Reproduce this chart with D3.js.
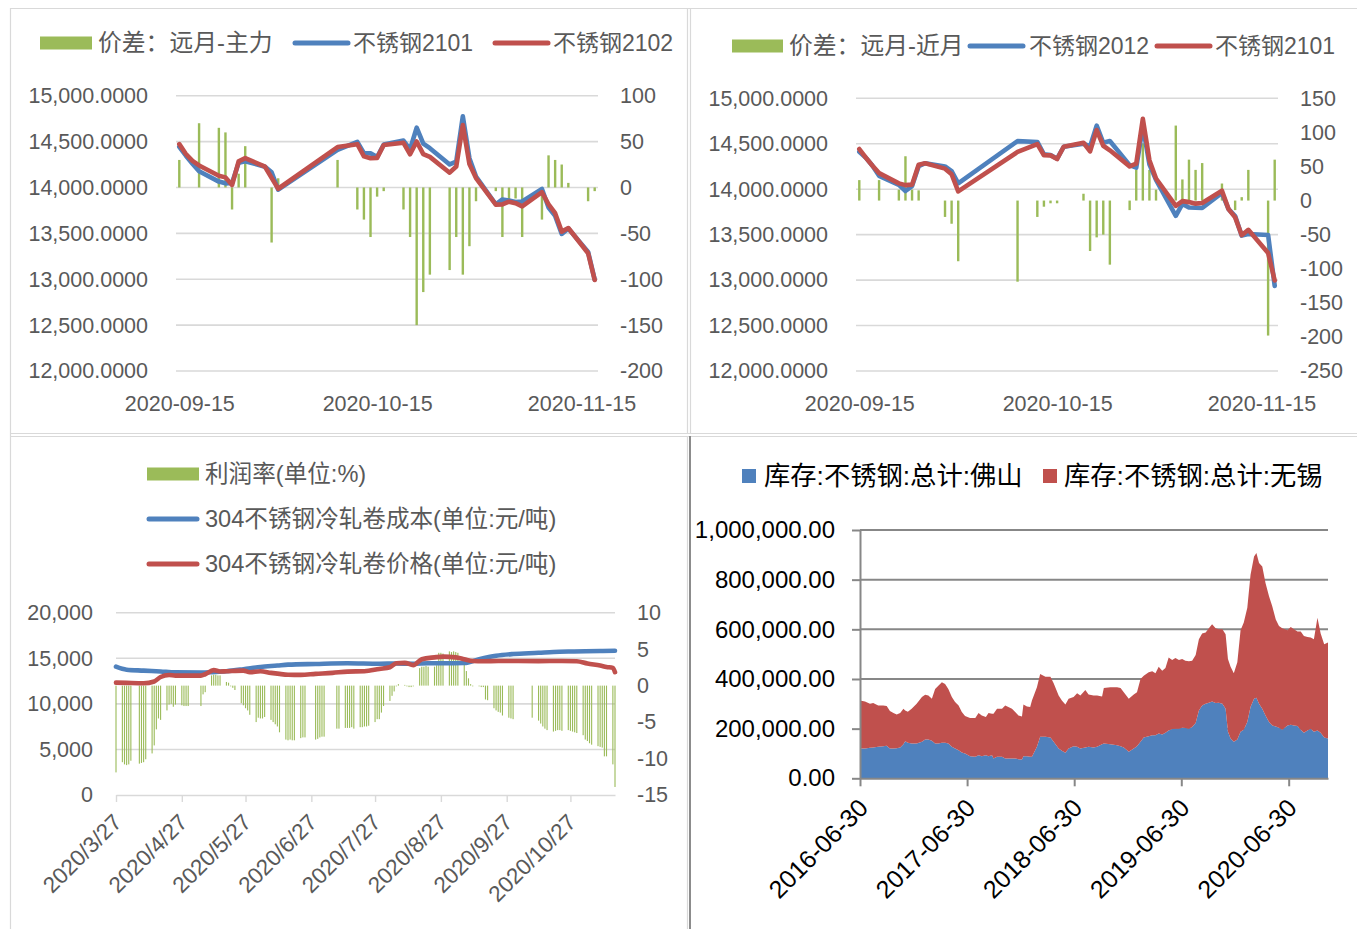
<!DOCTYPE html>
<html><head><meta charset="utf-8">
<script src="https://cdn.jsdelivr.net/npm/d3@7/dist/d3.min.js"></script>
<style>
html,body{margin:0;padding:0;background:#fff;overflow:hidden}
svg{display:block}
</style></head>
<body>
<svg id="chart" width="1357" height="929"></svg>
<script>
// ================= DATA =================
// --- top charts: trading days ---
const topDates = ["2020-09-15","2020-09-16","2020-09-17","2020-09-18","2020-09-21","2020-09-22","2020-09-23","2020-09-24","2020-09-25","2020-09-28","2020-09-29","2020-09-30",
"2020-10-09","2020-10-12","2020-10-13","2020-10-14","2020-10-15","2020-10-16","2020-10-19","2020-10-20","2020-10-21","2020-10-22","2020-10-23","2020-10-26","2020-10-27","2020-10-28","2020-10-29","2020-10-30",
"2020-11-02","2020-11-03","2020-11-04","2020-11-05","2020-11-06","2020-11-09","2020-11-10","2020-11-11","2020-11-12","2020-11-13","2020-11-16","2020-11-17"];
// 价差：远月-主力
const spreadFarMain = [30,0,0,70,65,60,-24,15,45,0,-60,10,
30,-24,-35,-54,-10,-4,-24,-54,-150,-114,-95,-90,-54,-95,-64,-15,
-4,-54,-13,-12,-54,-35,35,30,25,5,-15,-4];
// 不锈钢2101
const ss2101 = [14442,14346,14259,14177,14064,14045,14050,14268,14286,14226,14165,13976,
14410,14496,14374,14372,14332,14467,14511,14416,14651,14478,14428,14251,14282,14775,14319,14118,
13817,13869,13858,13841,13848,13983,13781,13690,13494,13553,13298,12996];
// 不锈钢2102
const ss2102 = [14472,14365,14290,14240,14127,14110,14026,14285,14320,14226,14105,13986,
14440,14472,14339,14318,14322,14463,14487,14362,14501,14364,14333,14161,14228,14680,14255,14103,
13813,13815,13845,13829,13794,13948,13816,13720,13519,13558,13283,12992];
// 价差：远月-近月
const spreadFarNear = [30,0,0,30,16,65,16,15,0,-24,-34,-89,
-119,-24,-9,-4,-4,0,10,-74,-54,-50,-94,-14,45,84,45,16,
110,31,60,45,55,25,0,-14,5,45,-198,60];
// 不锈钢2012
const ss2012 = [14411,14346,14259,14147,14048,13980,14034,14253,14286,14250,14199,14065,
14529,14520,14383,14376,14336,14467,14501,14470,14700,14510,14530,14265,14237,14691,14274,14102,
13707,13838,13798,13796,13793,13958,13781,13704,13489,13508,13496,12936];

const topLeftTicks = [12000,12500,13000,13500,14000,14500,15000];
const tlRightTicks = [-200,-150,-100,-50,0,50,100];
const trRightTicks = [-250,-200,-150,-100,-50,0,50,100,150];
const topDateTicks = ["2020-09-15","2020-10-15","2020-11-15"];

// --- bottom-left: profit ---
const profitDates = ["3/27","3/30","3/31","4/1","4/2","4/3","4/7","4/8","4/9","4/10","4/13","4/14","4/15","4/16","4/17","4/20","4/21","4/22","4/23","4/24","4/27","4/28","4/29","4/30",
"5/6","5/7","5/8","5/11","5/12","5/13","5/14","5/15","5/18","5/19","5/20","5/21","5/22","5/25","5/26","5/27","5/28","5/29",
"6/1","6/2","6/3","6/4","6/5","6/8","6/9","6/10","6/11","6/12","6/15","6/16","6/17","6/18","6/19","6/22","6/23","6/24","6/29","6/30",
"7/1","7/2","7/3","7/9","7/10","7/13","7/14","7/15","7/16","7/17","7/20","7/21","7/22","7/23","7/24","7/27","7/28","7/29","7/30","7/31",
"8/3","8/4","8/5","8/6","8/7","8/10","8/11","8/12","8/13","8/14","8/17","8/18","8/19","8/20","8/21","8/24","8/25","8/26","8/27","8/28","8/31",
"9/1","9/2","9/3","9/4","9/7","9/8","9/9","9/10","9/11","9/14","9/15","9/16","9/17","9/18","9/21","9/22","9/23","9/24","9/25","9/28","9/29","9/30",
"10/9","10/12","10/13","10/14","10/15","10/16","10/19","10/20","10/21","10/22","10/23","10/26","10/27","10/28","10/29","10/30",
"11/2","11/3","11/4","11/5","11/6","11/9","11/10","11/11","11/12","11/13","11/16","11/17"];
const profitRate = [-11.9,-10.5,-10.8,-10.9,-10.8,-10.3, -10.7,-10.6,-10.5,-10.1, -9.3,-8.2,-6.0,-4.5,-4.7, -3.4,-2.6,-2.5,-2.9,-2.6, -2.7,-2.8,-2.8,-2.8,
-2.8,-1.2,-0.9, 1.4,1.5,1.5,1.4,1.4, 0.5,0.4,-0.1,-0.3,-0.6, -2.4,-2.7,-3.1,-3.4,-4.0,
-5.0,-4.4,-4.5,-4.5,-4.3, -4.7,-5.0,-5.3,-5.6,-6.4, -7.4,-7.5,-7.4,-7.5,-7.5, -7.2,-7.1,-7.1, -7.4,-7.3,
-7.1,-7.0,-7.0, -5.9,-5.9, -5.8,-5.8,-5.8,-5.7,-5.9, -5.7,-5.7,-5.6,-5.6,-5.5, -5.0,-4.6,-4.6,-3.7,-2.8,
-2.1,-1.4,-0.8,-0.1,0.2, 0.1,-0.1,-0.2,-0.2,-0.1, 2.4,2.6,2.6,2.7,2.6, 2.6,2.8,4.5,4.5,4.4, 4.7,
4.6,4.7,4.6,4.5, 2.9,2.0,1.0,0.2,-0.1, -0.1,-0.2,-0.2,-1.9,-2.0, -3.1,-3.4,-3.6,-3.7,-4.1, -4.4,-4.5,-4.6,
-4.4, -4.8,-5.2,-5.6,-5.9,-6.1, -6.3,-6.2,-6.1,-6.1,-6.2, -6.1,-6.2,-6.3,-6.4,-6.5,
-6.8,-7.4,-7.6,-7.9,-8.1, -8.3,-8.4,-8.5,-9.7,-9.7, -10.8,-13.9];
const costDates = ["3/27","4/1","4/9","4/17","4/24","5/6","5/11","5/18","5/26","6/3","6/11","6/16","6/29","7/14","7/29","8/6","8/14","8/21","8/28","9/7","9/14","9/22","9/30","10/12","10/19","10/27","11/3","11/10","11/17"];
const costValues = [14080,13750,13650,13550,13450,13430,13470,13580,13800,14050,14200,14300,14380,14450,14400,14420,14400,14450,14450,14480,14900,15280,15470,15600,15690,15740,15766,15790,15830];
const priceDates = ["3/27","4/1","4/9","4/14","4/17","4/21","4/24","5/6","5/8","5/12","5/15","5/18","5/26","5/29","6/3","6/8","6/12","6/16","6/22","6/29","7/7","7/14","7/22","7/29","8/3","8/6","8/10","8/14","8/18","8/24","8/28","9/3","9/7","9/11","9/16","9/23","10/12","10/23","10/30","11/4","11/10","11/13","11/16","11/17"];
const priceValues = [12330,12300,12260,12450,12950,13170,13100,13100,13250,13700,13550,13580,13650,13470,13580,13400,13285,13200,13175,13285,13394,13540,13577,13832,14015,14450,14500,14250,14900,15100,15180,15100,14900,14700,14680,14700,14690,14700,14680,14420,14200,14050,13950,13480];
const blLeftTicks = [0,5000,10000,15000,20000];
const blRightTicks = [-15,-10,-5,0,5,10];
const blDateTicks = ["3/27","4/27","5/27","6/27","7/27","8/27","9/27","10/27"];

// --- bottom-right: inventory (thousand tonnes) ---
const invDates = ["2016-06-30","2016-07-17","2016-08-03","2016-08-14","2016-08-31","2016-09-17","2016-09-29","2016-10-10","2016-10-22","2016-11-02","2016-11-14","2016-11-25","2016-12-01","2016-12-10","2016-12-23",
"2017-01-09","2017-01-27","2017-02-07","2017-02-18","2017-03-02","2017-03-13","2017-03-24","2017-04-05","2017-04-16","2017-04-27","2017-05-09","2017-05-20","2017-06-01","2017-06-12","2017-06-23","2017-07-10","2017-07-28","2017-08-08","2017-08-19","2017-09-02","2017-09-11","2017-09-23","2017-09-28","2017-10-10","2017-10-27","2017-11-07","2017-11-30","2017-12-11","2017-12-22",
"2018-01-03","2018-01-08","2018-01-20","2018-01-31","2018-02-06","2018-02-23","2018-03-06","2018-03-24","2018-04-10","2018-04-21","2018-05-08","2018-05-19","2018-05-31","2018-06-11","2018-06-28","2018-07-10","2018-07-21","2018-08-07","2018-08-18","2018-09-04","2018-09-16","2018-10-03","2018-10-09","2018-10-31","2018-11-23","2018-12-05","2018-12-16",
"2019-01-02","2019-01-19","2019-01-30","2019-02-11","2019-02-22","2019-03-11","2019-03-23","2019-04-03","2019-04-14","2019-04-26","2019-05-07","2019-05-18","2019-05-30","2019-06-10","2019-06-22","2019-07-03","2019-07-14","2019-07-26","2019-08-06","2019-08-18","2019-08-29","2019-09-09","2019-09-21","2019-10-02","2019-10-13","2019-10-25","2019-11-05","2019-11-17","2019-11-28","2019-12-06","2019-12-15","2019-12-26",
"2020-01-07","2020-01-18","2020-01-29","2020-02-10","2020-02-21","2020-03-04","2020-03-12","2020-03-21","2020-04-01","2020-04-12","2020-04-24","2020-05-05","2020-05-17","2020-05-28","2020-06-08","2020-06-26","2020-07-07","2020-07-18","2020-07-30","2020-08-10","2020-08-21","2020-09-02","2020-09-13","2020-09-24","2020-10-06","2020-10-17","2020-10-29","2020-11-11"];
const invFoshanK = [120,120,123,124,127,129,131,120,120,121,124,137,149,143,140,
140,147,156,156,151,140,140,143,143,140,127,120,113,104,100,89,87,93,89,93,89,93,80,87,87,80,80,80,77,
76,89,89,87,87,127,167,167,164,147,120,111,103,120,129,127,120,124,127,124,127,137,140,137,133,129,124,
107,120,129,147,164,169,173,173,180,176,183,193,199,200,200,204,203,200,207,223,273,293,300,304,309,303,304,300,280,187,160,147,
156,187,196,227,287,320,324,300,280,253,227,213,209,204,196,213,216,213,211,196,183,193,200,187,193,183,164,160];
const invWuxiK = [193,189,177,179,166,164,160,151,143,136,139,143,124,125,140,
160,180,180,177,169,220,233,244,237,220,200,187,180,163,151,154,156,170,164,154,174,167,180,193,193,213,200,187,176,
173,208,200,200,226,240,253,242,245,236,213,202,194,200,198,216,213,232,210,209,206,192,224,230,234,235,223,
213,217,218,253,249,258,258,250,269,257,261,294,277,284,276,276,270,271,266,274,287,290,287,300,311,301,296,300,300,293,289,276,
311,409,431,460,533,573,583,567,573,534,506,480,431,409,408,383,393,387,380,395,390,376,367,373,454,400,376,387];
const brTicksK = [0,200,400,600,800,1000];
const brDateTicks = ["2016-06-30","2017-06-30","2018-06-30","2019-06-30","2020-06-30"];

// ================= DRAW =================
const svg = d3.select("#chart");
const FONT = "'Liberation Sans','Noto Sans CJK SC',sans-serif";
const TXT = "#595959", GRID = "#d9d9d9";
const BLUE = "#4f81bd", RED = "#c0504d", GREEN = "#9bbb59";
const pDay = d3.timeParse("%Y-%m-%d");
const pBL = s => d3.timeParse("%Y/%m/%d")("2020/" + s);
const hyph = d => String(d);

// panel frames
const fr = svg.append("g");
[[10,8.5,1357,8.5],[10.5,8,10.5,929],[687.5,8,687.5,433],[690.5,8,690.5,433],
 [10,433.5,1357,433.5],[10,436.5,1357,436.5],[687.5,436,687.5,929]].forEach(l=>{
  fr.append("line").attr("x1",l[0]).attr("y1",l[1]).attr("x2",l[2]).attr("y2",l[3])
    .attr("stroke",GRID).attr("stroke-width",1.2);
});
fr.append("line").attr("x1",690).attr("y1",436).attr("x2",690).attr("y2",929).attr("stroke","#8c8c8c").attr("stroke-width",2);

function styleText(sel, size, color){
  sel.attr("font-family",FONT).attr("font-size",size).attr("fill",color||TXT);
}

function drawTop(cfg){
  const g = svg.append("g");
  const dates = topDates.map(pDay);
  const x = d3.scaleTime().domain([new Date(2020,8,14,12), new Date(2020,10,17,12)]).range([cfg.x0, cfg.x1]);
  const yL = d3.scaleLinear().domain([12000,15000]).range([371, cfg.yTop]);
  const yR = d3.scaleLinear().domain(cfg.rDomain).range([371, cfg.yTop]);

  g.append("g").selectAll("line").data(topLeftTicks).join("line")
    .attr("x1",cfg.x0).attr("x2",cfg.x1).attr("y1",d=>yL(d)).attr("y2",d=>yL(d))
    .attr("stroke",GRID).attr("stroke-width",1.6);

  const la = g.append("g").attr("transform",`translate(${cfg.leftLabelX},0)`)
    .call(d3.axisLeft(yL).tickValues(topLeftTicks).tickFormat(d3.format(",.4f")).tickSize(0).tickPadding(0));
  la.select(".domain").remove();
  styleText(la.selectAll("text"), 21.5);

  const ra = g.append("g").attr("transform",`translate(${cfg.rightLabelX},0)`)
    .call(d3.axisRight(yR).tickValues(cfg.rTicks).tickFormat(hyph).tickSize(0).tickPadding(0));
  ra.select(".domain").remove();
  styleText(ra.selectAll("text"), 21.5);

  const ba = g.append("g").attr("transform","translate(0,403)")
    .call(d3.axisBottom(x).tickValues(topDateTicks.map(pDay)).tickFormat(d3.timeFormat("%Y-%m-%d")).tickSize(0).tickPadding(0));
  ba.select(".domain").remove();
  ba.selectAll("text").attr("y",0).attr("dy","0.35em");
  styleText(ba.selectAll("text"), 21.5);

  const bars = d3.zip(dates, cfg.bars);
  g.append("g").selectAll("rect").data(bars).join("rect")
    .attr("x",d=>x(d[0])-1.2).attr("width",2.4)
    .attr("y",d=>Math.min(yR(d[1]),yR(0))).attr("height",d=>Math.abs(yR(d[1])-yR(0)))
    .attr("fill",GREEN);

  const line = d3.line().x(d=>x(d[0])).y(d=>yL(d[1]));
  [[cfg.s1,BLUE],[cfg.s2,RED]].forEach(([s,c])=>{
    g.append("path").datum(d3.zip(dates,s)).attr("d",line).attr("fill","none")
      .attr("stroke",c).attr("stroke-width",4.6).attr("stroke-linejoin","round").attr("stroke-linecap","round");
  });

  // legend
  const L = cfg.legend, lg = g.append("g");
  lg.append("rect").attr("x",L.rect[0]).attr("y",L.y-6.5).attr("width",L.rect[1]-L.rect[0]).attr("height",13).attr("fill",GREEN);
  lg.append("line").attr("x1",L.l1[0]).attr("x2",L.l1[1]).attr("y1",L.y).attr("y2",L.y).attr("stroke",BLUE).attr("stroke-width",5).attr("stroke-linecap","round");
  lg.append("line").attr("x1",L.l2[0]).attr("x2",L.l2[1]).attr("y1",L.y).attr("y2",L.y).attr("stroke",RED).attr("stroke-width",5).attr("stroke-linecap","round");
  L.texts.forEach(([tx,t,fs])=>{
    styleText(lg.append("text").attr("x",tx).attr("y",L.y).attr("dy","0.35em").text(t), fs);
  });
}

drawTop({x0:176,x1:598,yTop:95.7,rDomain:[-200,100],rTicks:tlRightTicks,leftLabelX:148,rightLabelX:620,
  bars:spreadFarMain,s1:ss2101,s2:ss2102,
  legend:{y:43,rect:[40,92],l1:[295,348],l2:[495,548],texts:[[98,"价差：远月-主力",23.8],[353,"不锈钢2101",23],[553,"不锈钢2102",23]]}});
drawTop({x0:856,x1:1278,yTop:98.3,rDomain:[-250,150],rTicks:trRightTicks,leftLabelX:828,rightLabelX:1300,
  bars:spreadFarNear,s1:ss2012,s2:ss2101,
  legend:{y:46,rect:[732,783],l1:[970,1023],l2:[1157,1210],texts:[[789,"价差：远月-近月",23.8],[1029,"不锈钢2012",23],[1215,"不锈钢2101",23]]}});

// ---------- bottom-left ----------
(function(){
  const g = svg.append("g");
  const x = d3.scaleTime().domain([pBL("3/27"), pBL("11/17")]).range([116,615]);
  const yL = d3.scaleLinear().domain([0,20000]).range([795,612.7]);
  const yR = d3.scaleLinear().domain([-15,10]).range([795,612.7]);

  g.append("g").selectAll("line").data(blLeftTicks.filter(d=>d>0)).join("line")
    .attr("x1",116).attr("x2",615).attr("y1",d=>yL(d)).attr("y2",d=>yL(d))
    .attr("stroke",GRID).attr("stroke-width",1.6);

  const la = g.append("g").attr("transform","translate(93,0)")
    .call(d3.axisLeft(yL).tickValues(blLeftTicks).tickFormat(d3.format(",")).tickSize(0).tickPadding(0));
  la.select(".domain").remove();
  styleText(la.selectAll("text"), 21.5);

  const ra = g.append("g").attr("transform","translate(637,0)")
    .call(d3.axisRight(yR).tickValues(blRightTicks).tickFormat(hyph).tickSize(0).tickPadding(0));
  ra.select(".domain").remove();
  styleText(ra.selectAll("text"), 21.5);

  // bars
  const bars = d3.zip(profitDates.map(pBL), profitRate);
  g.append("g").selectAll("rect").data(bars).join("rect")
    .attr("x",d=>x(d[0])-0.55).attr("width",1.1)
    .attr("y",d=>Math.min(yR(d[1]),yR(0))).attr("height",d=>Math.abs(yR(d[1])-yR(0)))
    .attr("fill",GREEN);

  // x axis
  const ba = g.append("g").attr("transform","translate(0,795)")
    .call(d3.axisBottom(x).tickValues(blDateTicks.map(pBL)).tickFormat(d3.timeFormat("%Y/%-m/%-d")).tickSize(7).tickPadding(0).tickSizeOuter(0));
  ba.select(".domain").attr("stroke",GRID).attr("stroke-width",1.6);
  ba.selectAll(".tick line").attr("stroke",GRID).attr("stroke-width",1.4);
  ba.selectAll("text").attr("x",0).attr("y",0).attr("dy","0.35em").attr("text-anchor","end")
    .attr("transform","translate(1,23) rotate(-45)");
  styleText(ba.selectAll("text"), 22.5);

  const line = d3.line().x(d=>x(d[0])).y(d=>yL(d[1])).curve(d3.curveMonotoneX);
  [[costDates,costValues,BLUE],[priceDates,priceValues,RED]].forEach(([ds,vs,c])=>{
    g.append("path").datum(d3.zip(ds.map(pBL),vs)).attr("d",line).attr("fill","none")
      .attr("stroke",c).attr("stroke-width",4.6).attr("stroke-linejoin","round").attr("stroke-linecap","round");
  });

  const lg = g.append("g");
  lg.append("rect").attr("x",147).attr("y",467.5).attr("width",52).attr("height",13).attr("fill",GREEN);
  lg.append("line").attr("x1",149).attr("x2",197).attr("y1",519).attr("y2",519).attr("stroke",BLUE).attr("stroke-width",5).attr("stroke-linecap","round");
  lg.append("line").attr("x1",149).attr("x2",197).attr("y1",564).attr("y2",564).attr("stroke",RED).attr("stroke-width",5).attr("stroke-linecap","round");
  [[474,"利润率(单位:%)"],[519,"304不锈钢冷轧卷成本(单位:元/吨)"],[564,"304不锈钢冷轧卷价格(单位:元/吨)"]].forEach(([y,t])=>{
    styleText(lg.append("text").attr("x",205).attr("y",y).attr("dy","0.35em").text(t), 23.6);
  });
})();

// ---------- bottom-right ----------
(function(){
  const g = svg.append("g");
  const AX = "#878787";
  const dates = invDates.map(pDay);
  const x = d3.scaleTime().domain([pDay("2016-06-30"), pDay("2020-11-11")]).range([860,1328]);
  const y = d3.scaleLinear().domain([0,1000]).range([778.3,530]);

  g.append("g").selectAll("line").data(brTicksK.filter(d=>d>0)).join("line")
    .attr("x1",860).attr("x2",1328).attr("y1",d=>y(d)).attr("y2",d=>y(d))
    .attr("stroke",AX).attr("stroke-width",2);

  const rows = dates.map((d,i)=>({date:d, foshan:invFoshanK[i], wuxi:invWuxiK[i]}));
  const stack = d3.stack().keys(["foshan","wuxi"])(rows);
  const area = d3.area().x(d=>x(d.data.date)).y0(d=>y(d[0])).y1(d=>y(d[1]));
  g.append("g").selectAll("path").data(stack).join("path")
    .attr("d",area).attr("fill",(d,i)=>i===0?BLUE:RED);

  const la = g.append("g").attr("transform","translate(860,0)")
    .call(d3.axisLeft(y).tickValues(brTicksK).tickFormat(d=>d3.format(",.2f")(d*1000)).tickSize(8).tickPadding(17).tickSizeOuter(0));
  la.select(".domain").attr("stroke",AX).attr("stroke-width",2);
  la.selectAll(".tick line").attr("stroke",AX).attr("stroke-width",2);
  styleText(la.selectAll("text"), 24, "#000");

  const ba = g.append("g").attr("transform","translate(0,778.3)")
    .call(d3.axisBottom(x).tickValues(brDateTicks.map(pDay)).tickFormat(d3.timeFormat("%Y-%m-%d")).tickSize(8).tickPadding(0).tickSizeOuter(0));
  ba.select(".domain").attr("stroke",AX).attr("stroke-width",2);
  ba.selectAll(".tick line").attr("stroke",AX).attr("stroke-width",2);
  ba.selectAll("text").attr("x",0).attr("y",0).attr("dy","0.35em").attr("text-anchor","end")
    .attr("transform","translate(3,25) rotate(-45)");
  styleText(ba.selectAll("text"), 25, "#000");

  const lg = g.append("g");
  lg.append("rect").attr("x",742).attr("y",469).attr("width",14).attr("height",14).attr("fill",BLUE);
  lg.append("rect").attr("x",1043).attr("y",469).attr("width",14).attr("height",14).attr("fill",RED);
  styleText(lg.append("text").attr("x",764).attr("y",476).attr("dy","0.35em").text("库存:不锈钢:总计:佛山"), 26.3, "#000");
  styleText(lg.append("text").attr("x",1064).attr("y",476).attr("dy","0.35em").text("库存:不锈钢:总计:无锡"), 26.3, "#000");
})();
</script>
</body></html>
